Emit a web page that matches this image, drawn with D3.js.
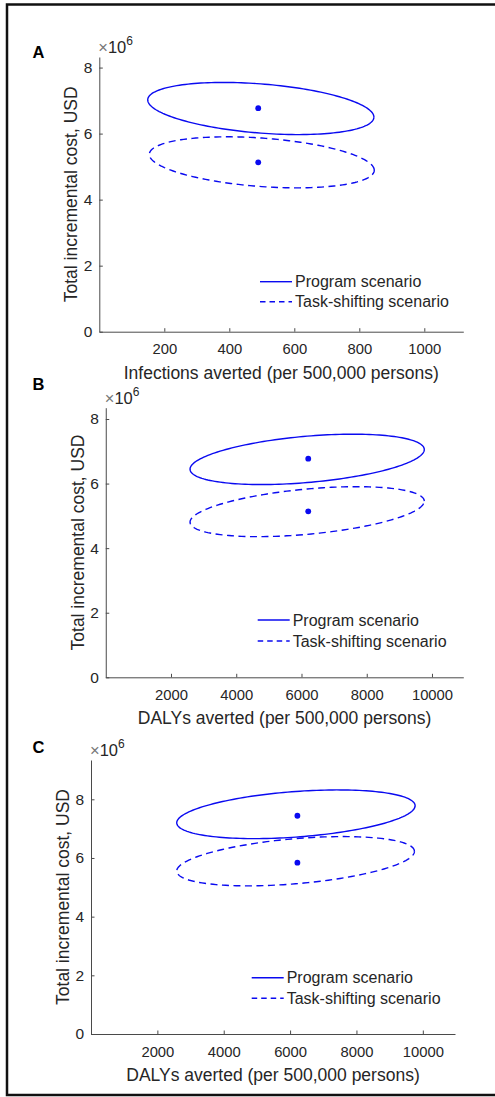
<!DOCTYPE html>
<html>
<head>
<meta charset="utf-8">
<script src="https://cdn.jsdelivr.net/npm/d3@7"></script>
<style>
  html, body { margin: 0; padding: 0; background: #fff; }
  svg { display: block; font-family: "Liberation Sans", Arial, sans-serif; }
</style>
</head>
<body>
<svg id="chart" width="495" height="1097"></svg>
<script>
// ---------- data ----------
const panelLetters = ["A", "B", "C"];
const xAxisLabels = [
  "Infections averted (per 500,000 persons)",
  "DALYs averted (per 500,000 persons)",
  "DALYs averted (per 500,000 persons)"
];
const yAxisLabel = "Total incremental cost, USD";
const yExponent = "6";
const xTicks = [
  [200, 400, 600, 800, 1000],
  [2000, 4000, 6000, 8000, 10000],
  [2000, 4000, 6000, 8000, 10000]
];
const xMax = [1120, 10960, 10970];
const yTicks = [0, 2, 4, 6, 8];           // ×10^6
const yMax = [8.32, 8.35, 9.34];          // ×10^6
const seriesNames = ["Program scenario", "Task-shifting scenario"];
// point estimates [x, y(×10^6)]
const programPoints = [[489, 6.77], [6207, 6.77], [6220, 7.44]];
const taskPoints    = [[489, 5.13], [6207, 5.14], [6220, 5.84]];
// confidence ellipses [cx, cy, x half-width, y half-height, correlation]
const programEllipses = [
  [497, 6.76, 348, 0.79, -0.33],
  [6174, 6.75, 3590, 0.78, 0.39],
  [6176, 7.49, 3592, 0.83, 0.35]
];
const taskEllipses = [
  [500, 5.13, 346, 0.773, -0.31],
  [6174, 5.13, 3590, 0.774, 0.42],
  [6165, 5.89, 3582, 0.84, 0.40]
];

// ---------- layout (pixels) ----------
const layouts = [
  { left: 99.3, right: 463.3, top: 57, bottom: 331.7, letterY: 57.5, legX: 260, legY: 281.7, legDy: 20 },
  { left: 105.75, right: 463.3, top: 407.7, bottom: 677.3, letterY: 389.5, legX: 257.7, legY: 620, legDy: 21 },
  { left: 91, right: 455, top: 760, bottom: 1034, letterY: 752.5, legX: 251.7, legY: 977.7, legDy: 20.6 }
];

const BLUE = "#0a0af0";
const AXIS = "#4a4a4a";
const TEXT = "#262626";

const svg = d3.select("#chart");

// outer frame (right edge falls outside the image)
svg.append("path")
  .attr("d", "M 500 4.5 L 7 4.5 L 7 1095 L 500 1095")
  .attr("fill", "none").attr("stroke", "#111").attr("stroke-width", 2.5);

function ellipsePoints(e) {
  const [cx, cy, sx, sy, rho] = e;
  const k = Math.sqrt(1 - rho * rho);
  return d3.range(0, 361, 2).map(deg => {
    const t = deg * Math.PI / 180;
    return [cx + sx * Math.cos(t), cy + sy * (rho * Math.cos(t) + k * Math.sin(t))];
  });
}

panelLetters.forEach((letter, i) => {
  const L = layouts[i];
  const x = d3.scaleLinear().domain([0, xMax[i]]).range([L.left, L.right]);
  const y = d3.scaleLinear().domain([0, yMax[i]]).range([L.bottom, L.top]);
  const g = svg.append("g");

  // x axis
  const xAxis = d3.axisBottom(x).tickValues(xTicks[i]).tickSize(-3.5).tickSizeOuter(0).tickPadding(10)
    .tickFormat(d3.format("d"));
  const gx = g.append("g").attr("transform", `translate(0,${L.bottom})`).call(xAxis);
  gx.attr("font-family", null).attr("font-size", null);
  gx.select(".domain").attr("stroke", AXIS);
  gx.selectAll(".tick line").attr("stroke", AXIS);
  gx.selectAll(".tick text").attr("fill", TEXT).attr("font-size", 14.8)
    .attr("dy", null).attr("y", 22.5);

  // y axis
  const yAxis = d3.axisLeft(y).tickValues(yTicks).tickSize(-3.5).tickSizeOuter(0).tickPadding(7)
    .tickFormat(d3.format("d"));
  const gy = g.append("g").attr("transform", `translate(${L.left},0)`).call(yAxis);
  gy.attr("font-family", null).attr("font-size", null);
  gy.select(".domain").attr("stroke", AXIS);
  gy.selectAll(".tick line").attr("stroke", AXIS);
  gy.selectAll(".tick text").attr("fill", TEXT).attr("font-size", 15.5);

  // exponent label
  const ex = g.append("text").attr("x", L.left - 1).attr("y", L.top - 4)
    .attr("fill", TEXT).attr("font-size", 16.5);
  ex.append("tspan").attr("fill", "#777").text("\u00d7");
  ex.append("tspan").text("10");
  ex.append("tspan").attr("dy", -8).attr("font-size", 12).text(yExponent);

  // axis labels
  g.append("text").attr("x", (L.left + L.right) / 2).attr("y", L.bottom + 47)
    .attr("text-anchor", "middle").attr("fill", TEXT).attr("font-size", 17.5)
    .text(xAxisLabels[i]);
  g.append("text")
    .attr("transform", `translate(${L.left - 22},${(L.top + L.bottom) / 2}) rotate(-90)`)
    .attr("text-anchor", "middle").attr("fill", TEXT).attr("font-size", 17.5)
    .text(yAxisLabel);

  // panel letter
  g.append("text").attr("x", 32.5).attr("y", L.letterY)
    .attr("font-weight", "bold").attr("font-size", 16.5).attr("fill", "#000")
    .text(letter);

  // ellipses
  const line = d3.line().x(d => x(d[0])).y(d => y(d[1]));
  g.append("path").datum(ellipsePoints(programEllipses[i])).attr("d", line)
    .attr("fill", "none").attr("stroke", BLUE).attr("stroke-width", 1.4);
  g.append("path").datum(ellipsePoints(taskEllipses[i])).attr("d", line)
    .attr("fill", "none").attr("stroke", BLUE).attr("stroke-width", 1.4)
    .attr("stroke-dasharray", "7,4.5");

  // points
  g.selectAll("circle.pt").data([programPoints[i], taskPoints[i]]).enter()
    .append("circle").attr("class", "pt")
    .attr("cx", d => x(d[0])).attr("cy", d => y(d[1])).attr("r", 2.9)
    .attr("fill", BLUE);

  // legend
  seriesNames.forEach((name, j) => {
    const ly = L.legY + j * L.legDy;
    g.append("line").attr("x1", L.legX).attr("x2", L.legX + 32)
      .attr("y1", ly).attr("y2", ly)
      .attr("stroke", BLUE).attr("stroke-width", 1.4)
      .attr("stroke-dasharray", j === 1 ? "5.5,4" : null);
    g.append("text").attr("x", L.legX + 35).attr("y", ly + 5.7)
      .attr("fill", TEXT).attr("font-size", 16).text(name);
  });
});
</script>
</body>
</html>
